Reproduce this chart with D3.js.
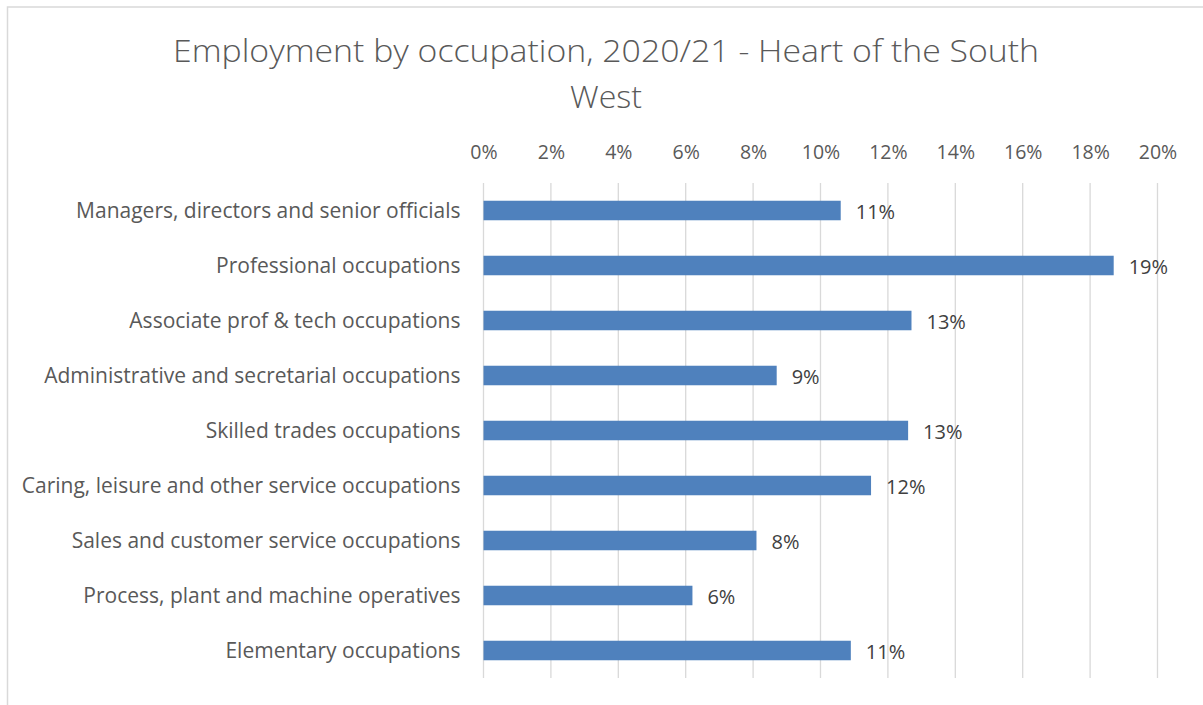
<!DOCTYPE html>
<html><head><meta charset="utf-8">
<script src="https://cdn.jsdelivr.net/npm/d3@7"></script>
<style>body{margin:0;background:#fff;}svg{display:block;}</style>
</head><body>
<script>
const categories = [
  "Managers, directors and senior officials",
  "Professional occupations",
  "Associate prof & tech occupations",
  "Administrative and secretarial occupations",
  "Skilled trades occupations",
  "Caring, leisure and other service occupations",
  "Sales and customer service occupations",
  "Process, plant and machine operatives",
  "Elementary occupations"
];
const values = [0.106, 0.187, 0.127, 0.087, 0.126, 0.115, 0.081, 0.062, 0.109];
const tickValues = [0,0.02,0.04,0.06,0.08,0.10,0.12,0.14,0.16,0.18,0.20];
const titleLines = ["Employment by occupation, 2020/21 - Heart of the South", "West"];

const W = 1203, H = 705;
const svg = d3.select("body").append("svg").attr("width", W).attr("height", H);
svg.append("rect").attr("x",7.5).attr("y",7).attr("width",W+10).attr("height",H+10)
  .attr("fill","#fff").attr("stroke","#d9d9d9").attr("stroke-width",1.5);

const font = "'Open Sans', 'Liberation Sans', sans-serif";
const x = d3.scaleLinear().domain([0,0.20]).range([483.5,1157.5]);
const y = d3.scaleBand().domain(categories).range([183,678]).paddingInner(0.645).paddingOuter(0.3225);

// title
svg.append("text").attr("x",606).attr("y",62).attr("text-anchor","middle")
  .attr("font-family",font).attr("font-weight",300).attr("font-size",31).attr("fill","#595959")
  .attr("textLength",866).attr("lengthAdjust","spacingAndGlyphs").text(titleLines[0]);
svg.append("text").attr("x",606).attr("y",108).attr("text-anchor","middle")
  .attr("font-family",font).attr("font-weight",300).attr("font-size",31).attr("fill","#595959")
  .attr("textLength",72).attr("lengthAdjust","spacingAndGlyphs").text(titleLines[1]);

// gridlines
svg.append("g").selectAll("line").data(tickValues).join("line")
  .attr("x1",d=>x(d)).attr("x2",d=>x(d)).attr("y1",183).attr("y2",678)
  .attr("stroke","#d9d9d9").attr("stroke-width",1.3);

// top axis
const xAxis = d3.axisTop(x).tickValues(tickValues).tickFormat(d3.format(".0%")).tickSize(0).tickPadding(0);
const gx = svg.append("g").attr("transform","translate(0,159)").call(xAxis);
gx.select(".domain").remove();
gx.selectAll("text").attr("font-family",font).attr("font-size",19.5).attr("fill","#595959");

// left axis
const yAxis = d3.axisLeft(y).tickSize(0).tickPadding(23);
const gy = svg.append("g").attr("transform","translate(483.5,0)").call(yAxis);
gy.select(".domain").remove();
gy.selectAll("text").attr("font-family",font).attr("font-size",21).attr("fill","#595959").attr("dy","0.35em");

// bars
svg.append("g").selectAll("rect").data(values).join("rect")
  .attr("x",x(0)).attr("y",(d,i)=>y(categories[i]))
  .attr("width",d=>x(d)-x(0)).attr("height",y.bandwidth())
  .attr("fill","#4f81bd");

// data labels
svg.append("g").selectAll("text").data(values).join("text")
  .attr("x",d=>x(d)+15).attr("y",(d,i)=>y(categories[i])+y.bandwidth()/2+1)
  .attr("dy","0.35em").attr("font-family",font).attr("font-size",20).attr("fill","#404040")
  .text(d=>d3.format(".0%")(d));
</script>
</body></html>
